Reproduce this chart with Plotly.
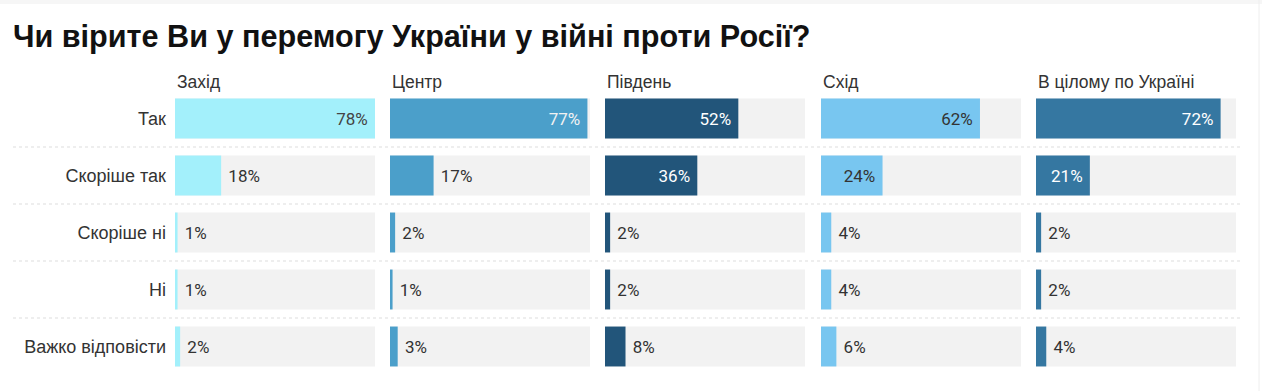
import plotly.graph_objects as go

# ---- data ----
title_text = "Чи вірите Ви у перемогу України у війні проти Росії?"
regions = ["Захід", "Центр", "Південь", "Схід", "В цілому по Україні"]
answers = ["Так", "Скоріше так", "Скоріше ні", "Ні", "Важко відповісти"]
zahid = [78, 18, 1, 1, 2]
tsentr = [77, 17, 2, 1, 3]
pivden = [52, 36, 2, 2, 8]
skhid = [62, 24, 4, 4, 6]
ukraina = [72, 21, 2, 2, 4]
series = [zahid, tsentr, pivden, skhid, ukraina]
x_max = 78

# ---- style ----
W, H = 1262, 391
colors = ["#a3f0fb", "#4b9fca", "#22557a", "#78c6f0", "#3577a1"]
inside_text_colors = ["#444444", "#f2f2f2", "#ffffff", "#333333", "#ffffff"]
panel_left_px = [175, 390, 605, 821, 1036]
panel_w_px = 200
row_top_px, row_bottom_px = 90, 375
inside_threshold = 20

fig = go.Figure()
for i, (name, vals) in enumerate(zip(regions, series)):
    ax = "x" if i == 0 else f"x{i+1}"
    texts, pos, tcolors = [], [], []
    for v in vals:
        if v >= inside_threshold:
            texts.append(f"{v}%\u00a0")
            pos.append("inside")
            tcolors.append(inside_text_colors[i])
        else:
            texts.append(f"\u00a0{v}%")
            pos.append("outside")
            tcolors.append("#333333")
    fig.add_trace(go.Bar(
        x=vals, y=answers, orientation="h", name=name,
        xaxis=ax, yaxis="y",
        marker=dict(color=colors[i], line=dict(width=0)),
        width=0.7,
        text=texts, textposition=pos,
        textfont=dict(family="Roboto", size=17, color=tcolors),
        insidetextanchor="end", constraintext="none",
        cliponaxis=False, hoverinfo="skip", showlegend=False,
    ))

layout = dict(
    width=W, height=H,
    margin=dict(l=0, r=0, t=0, b=0),
    paper_bgcolor="white", plot_bgcolor="rgba(0,0,0,0)",
    barmode="overlay",
    yaxis=dict(
        domain=[1 - row_bottom_px / H, 1 - row_top_px / H],
        categoryorder="array", categoryarray=answers,
        range=[len(answers) - 0.5, -0.5],
        showgrid=False, zeroline=False, showline=False,
        ticks="", ticklabelstandoff=8,
        tickfont=dict(family="Liberation Sans", size=18, color="#333333"),
        anchor="x", fixedrange=True,
    ),
)
annotations = []
shapes = []
for i, name in enumerate(regions):
    key = "xaxis" if i == 0 else f"xaxis{i+1}"
    x0 = panel_left_px[i] / W
    x1 = (panel_left_px[i] + panel_w_px) / W
    layout[key] = dict(
        domain=[x0, x1], range=[0, x_max],
        showgrid=False, zeroline=False, showline=False,
        showticklabels=False, ticks="", anchor="y", fixedrange=True,
    )
    annotations.append(dict(
        text=name, x=x0, y=1 - 82 / H, xref="paper", yref="paper",
        xanchor="left", yanchor="middle", showarrow=False,
        font=dict(family="Liberation Sans", size=17.5, color="#333333"),
    ))
    dref = ("x" if i == 0 else f"x{i+1}") + " domain"
    for j in range(len(answers)):
        shapes.append(dict(
            type="rect", xref=dref, yref="y", x0=0, x1=1,
            y0=j - 0.35, y1=j + 0.35, fillcolor="#f2f2f2",
            line=dict(width=0), layer="below",
        ))

for j in range(len(answers) - 1):
    shapes.append(dict(
        type="line", xref="paper", yref="y", x0=13 / W, x1=1243 / W,
        y0=j + 0.5, y1=j + 0.5, line=dict(color="#dddddd", width=1, dash="dot"),
        layer="below",
    ))

# faint card edges
shapes.append(dict(type="rect", xref="paper", yref="paper", x0=0, x1=1,
                   y0=1 - 4 / H, y1=1, fillcolor="#f6f6f6", line=dict(width=0), layer="below"))
shapes.append(dict(type="line", xref="paper", yref="paper", x0=1259 / W, x1=1259 / W,
                   y0=0, y1=1, line=dict(color="#eeeeee", width=1), layer="below"))

annotations.append(dict(
    text=f"<b>{title_text}</b>", x=11 / W, y=1 - 37 / H, xref="paper", yref="paper",
    xanchor="left", yanchor="middle", showarrow=False,
    font=dict(family="Liberation Sans", size=30.6, color="#111111"),
))
layout["annotations"] = annotations
layout["shapes"] = shapes
fig.update_layout(**layout)
fig.write_html("out.html", config={"displayModeBar": False},
               post_script="document.body.style.margin='0';")
